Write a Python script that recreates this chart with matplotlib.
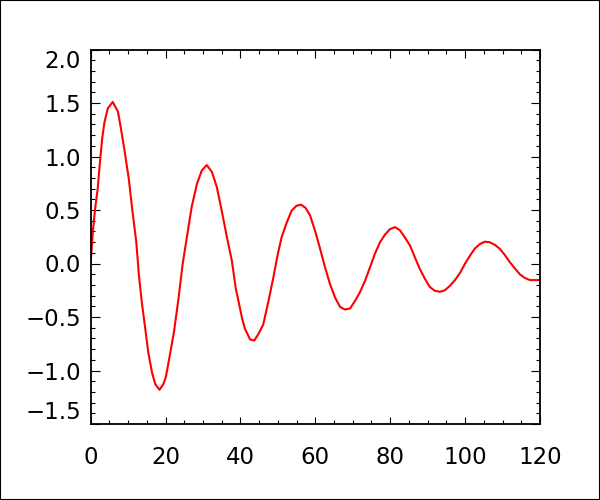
import matplotlib
matplotlib.use('Agg')
import matplotlib.pyplot as plt
from matplotlib.ticker import MultipleLocator
from matplotlib.patches import Rectangle

# values
time = [0, 0.6, 1.2, 1.9, 2.5, 3.1, 3.7, 4.6, 5.9, 7.3, 8.1, 9.0, 10.2, 11.1,
        12.2, 12.9, 13.7, 14.6, 15.4, 16.4, 17.3, 18.4, 19.4, 20.1, 21.2,
        22.3, 23.5, 24.6, 25.7, 27.0, 28.4, 29.7, 31.0, 32.4, 33.7, 35.0,
        36.4, 37.7, 38.8, 39.6, 40.4, 41.2, 42.6, 43.7, 44.8, 46.1, 47.5,
        48.8, 50.0, 51.0, 52.4, 53.7, 55.0, 56.2, 57.4, 58.6, 59.9, 61.3,
        62.6, 63.9, 65.3, 66.6, 67.9, 69.3, 70.6, 71.9, 73.3, 74.6, 75.9,
        77.3, 78.6, 79.9, 81.3, 82.6, 83.9, 85.3, 86.6, 87.9, 89.3, 90.6,
        91.9, 93.3, 94.6, 95.9, 97.3, 98.6, 100.0, 101.3, 102.6, 104.0,
        105.3, 106.6, 108.0, 109.3, 110.6, 112.0, 113.3, 114.6, 116.0,
        117.3, 120.0]
amplitude = [0.0, 0.30, 0.51, 0.70, 0.95, 1.17, 1.32, 1.45, 1.51, 1.42, 1.26,
             1.07, 0.79, 0.51, 0.20, -0.11, -0.37, -0.61, -0.83, -1.02, -1.13,
             -1.18, -1.13, -1.06, -0.85, -0.63, -0.32, 0.0, 0.245, 0.53, 0.745,
             0.87, 0.92, 0.855, 0.715, 0.495, 0.245, 0.03, -0.24, -0.37, -0.505,
             -0.61, -0.71, -0.72, -0.66, -0.57, -0.35, -0.13, 0.09, 0.245,
             0.385, 0.495, 0.54, 0.55, 0.52, 0.45, 0.31, 0.135, -0.036, -0.19,
             -0.32, -0.405, -0.43, -0.42, -0.35, -0.27, -0.16, -0.036, 0.09,
             0.20, 0.27, 0.32, 0.34, 0.31, 0.245, 0.167, 0.057, -0.05, -0.145,
             -0.22, -0.255, -0.264, -0.25, -0.21, -0.155, -0.09, 0.0, 0.073,
             0.14, 0.183, 0.204, 0.198, 0.173, 0.136, 0.08, 0.01, -0.046,
             -0.10, -0.136, -0.155, -0.155]

xticks = [0, 20, 40, 60, 80, 100, 120]
yticks = [-1.5, -1.0, -0.5, 0.0, 0.5, 1.0, 1.5, 2.0]

plt.rcParams['font.family'] = ['DejaVu Sans']
fig = plt.figure(figsize=(6, 5), dpi=100)
ax = fig.add_axes([0.151, 0.152, 0.749, 0.749])

ax.plot(time, amplitude, color='red', linewidth=1.5)

ax.set_xlim(0, 120)
ax.set_ylim(-1.5, 2.0)
ax.set_xticks(xticks)
ax.set_yticks(yticks)
ax.set_yticklabels([('%.1f' % v).replace('-', '\u2212') for v in yticks])
ax.xaxis.set_minor_locator(MultipleLocator(5))
ax.yaxis.set_minor_locator(MultipleLocator(0.1))

ax.tick_params(which='both', direction='in', top=True, right=True, width=0.8, labelsize=16.5)
ax.tick_params(axis='x', which='major', length=5.4, pad=16)
ax.tick_params(axis='x', which='minor', length=2.8)
ax.tick_params(axis='y', which='major', length=6.5, pad=7)
ax.tick_params(axis='y', which='minor', length=3.2)
for s in ax.spines.values():
    s.set_linewidth(1.3)

#keep end labels inside the axis like the original
labels = ax.get_yticklabels()
labels[0].set_va('bottom')
labels[-1].set_va('top')

# border round the whole picture
fig.patches.append(Rectangle((0, 0), 1, 1, transform=fig.transFigure,
                             fill=False, edgecolor='black', linewidth=1.5))

fig.savefig('out.png', dpi=100)
